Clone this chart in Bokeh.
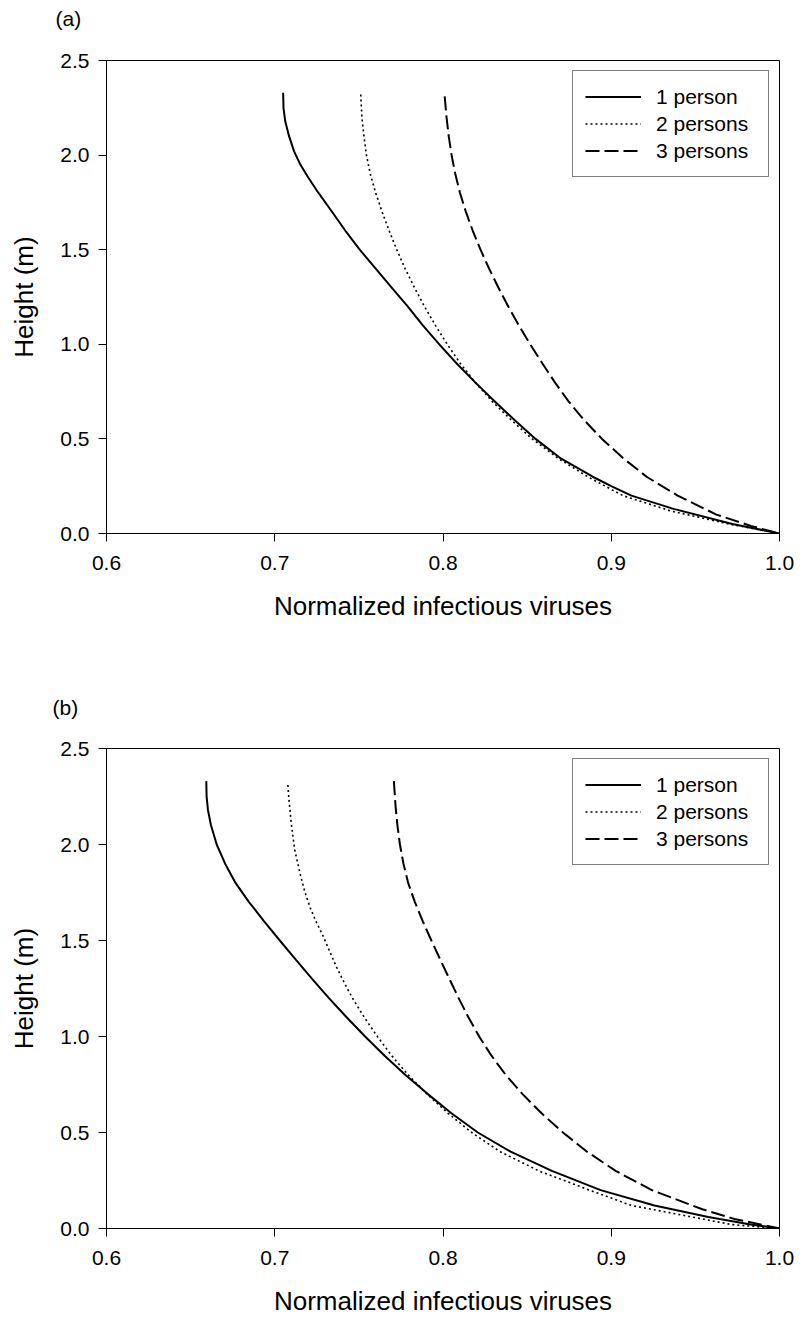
from bokeh.plotting import figure
from bokeh.layouts import column
from bokeh.models import Legend, LegendItem, FixedTicker, Range1d, Title
from bokeh.embed import file_html
from bokeh.resources import INLINE

# ---- data -------------------------------------------------------------
x_ticks = [0.6, 0.7, 0.8, 0.9, 1.0]
y_ticks = [0.0, 0.5, 1.0, 1.5, 2.0, 2.5]
series_names = ["1 person", "2 persons", "3 persons"]

# panel (a): normalized infectious viruses (x) against height (y)
a_one_h = [2.33, 2.25, 2.18, 2.10, 2.02, 1.95, 1.88, 1.80, 1.71, 1.60, 1.50, 1.40,
           1.30, 1.20, 1.10, 1.00, 0.90, 0.80, 0.70, 0.60, 0.50, 0.40, 0.30, 0.25,
           0.20, 0.13, 0.05, 0.0]
a_one_v = [0.7050, 0.7052, 0.7062, 0.7085, 0.7115, 0.7152, 0.7200, 0.7260, 0.7333,
           0.7420, 0.7505, 0.7600, 0.7695, 0.7790, 0.7880, 0.7978, 0.8080, 0.8190,
           0.8305, 0.8425, 0.8550, 0.8695, 0.8890, 0.9000, 0.9120, 0.9370, 0.9720, 1.0]

a_two_h = [2.32, 2.20, 2.10, 2.00, 1.90, 1.80, 1.70, 1.60, 1.50, 1.40, 1.30, 1.20,
           1.10, 1.00, 0.90, 0.80, 0.70, 0.60, 0.50, 0.40, 0.30, 0.20, 0.12, 0.05, 0.0]
a_two_v = [0.7511, 0.7518, 0.7530, 0.7545, 0.7568, 0.7600, 0.7638, 0.7680, 0.7725,
           0.7775, 0.7830, 0.7890, 0.7955, 0.8025, 0.8102, 0.8190, 0.8290, 0.8405,
           0.8530, 0.8680, 0.8860, 0.9070, 0.9350, 0.9700, 1.0]

a_three_h = [2.31, 2.20, 2.10, 2.00, 1.90, 1.80, 1.70, 1.60, 1.50, 1.40, 1.30, 1.20,
             1.10, 1.00, 0.90, 0.80, 0.70, 0.60, 0.50, 0.40, 0.30, 0.20, 0.10, 0.04, 0.0]
a_three_v = [0.8010, 0.8021, 0.8034, 0.8051, 0.8073, 0.8101, 0.8136, 0.8177, 0.8223,
             0.8274, 0.8329, 0.8388, 0.8451, 0.8518, 0.8590, 0.8664, 0.8745, 0.8838,
             0.8945, 0.9068, 0.9210, 0.9395, 0.9625, 0.9830, 1.0]

# panel (b)
b_one_h = [2.33, 2.25, 2.18, 2.10, 2.00, 1.90, 1.80, 1.70, 1.60, 1.50, 1.40, 1.30,
           1.20, 1.10, 1.00, 0.90, 0.80, 0.70, 0.60, 0.50, 0.40, 0.30, 0.20, 0.12,
           0.06, 0.02, 0.0]
b_one_v = [0.6593, 0.6595, 0.6603, 0.6621, 0.6655, 0.6705, 0.6767, 0.6847, 0.6937,
           0.7030, 0.7125, 0.7222, 0.7322, 0.7427, 0.7537, 0.7653, 0.7777, 0.7910,
           0.8050, 0.8207, 0.8402, 0.8647, 0.8937, 0.9257, 0.9577, 0.9837, 1.0]

b_two_h = [2.31, 2.24, 2.11, 1.97, 1.84, 1.75, 1.67, 1.60, 1.52, 1.44, 1.36, 1.28,
           1.20, 1.10, 1.00, 0.90, 0.80, 0.70, 0.60, 0.50, 0.40, 0.30, 0.20, 0.12,
           0.06, 0.02, 0.0]
b_two_v = [0.7078, 0.7084, 0.7098, 0.7119, 0.7153, 0.7180, 0.7211, 0.7245, 0.7289,
           0.7328, 0.7368, 0.7413, 0.7462, 0.7532, 0.7610, 0.7695, 0.7793, 0.7905,
           0.8030, 0.8170, 0.8340, 0.8570, 0.8870, 0.9120, 0.9480, 0.9720, 1.0]

b_three_h = [2.33, 2.20, 2.10, 2.00, 1.90, 1.80, 1.70, 1.60, 1.50, 1.40, 1.30, 1.20,
             1.10, 1.00, 0.90, 0.80, 0.70, 0.60, 0.50, 0.40, 0.30, 0.20, 0.10, 0.05, 0.0]
b_three_v = [0.7708, 0.7718, 0.7729, 0.7744, 0.7765, 0.7793, 0.7833, 0.7880, 0.7931,
             0.7984, 0.8038, 0.8093, 0.8151, 0.8215, 0.8288, 0.8373, 0.8473, 0.8586,
             0.8713, 0.8856, 0.9026, 0.9241, 0.9541, 0.9731, 1.0]

# ---- styling ----------------------------------------------------------
FONT = "Liberation Sans"
line_styles = [
    dict(line_dash="solid", line_width=2),
    dict(line_dash="2 3", line_width=1.6),
    dict(line_dash="14 5", line_width=2),
]


def make_tag(tag, height, border_top, offset):
    """A thin strip above a panel that carries its tag, e.g. "(a)"."""
    t = figure(width=801, height=height, output_backend="svg", toolbar_location=None,
               x_range=Range1d(0, 1), y_range=Range1d(0, 1),
               x_axis_type=None, y_axis_type=None,
               min_border_left=106, min_border_right=22,
               min_border_top=border_top, min_border_bottom=0,
               outline_line_color=None)
    t.grid.visible = False
    t.add_layout(Title(text=tag, align="left", offset=offset, standoff=6,
                       text_font=FONT, text_font_size="21px",
                       text_font_style="normal", text_color="black"), "above")
    return t


def make_panel(series, height, borders):
    left, right, top, bottom = borders
    p = figure(width=801, height=height, output_backend="svg", toolbar_location=None,
               x_range=Range1d(0.6, 1.0), y_range=Range1d(0.0, 2.5),
               min_border_left=left, min_border_right=right,
               min_border_top=top, min_border_bottom=bottom)
    p.grid.visible = False
    p.outline_line_color = "black"
    p.outline_line_width = 1
    p.outline_line_alpha = 1.0
    p.background_fill_color = "white"
    p.border_fill_color = "white"

    p.xaxis.ticker = FixedTicker(ticks=x_ticks)
    p.yaxis.ticker = FixedTicker(ticks=y_ticks)
    p.xaxis.major_label_overrides = {v: f"{v:.1f}" for v in x_ticks}
    p.yaxis.major_label_overrides = {v: f"{v:.1f}" for v in y_ticks}
    for ax in (p.xaxis[0], p.yaxis[0]):
        ax.axis_line_color = "black"
        ax.major_tick_line_color = "black"
        ax.major_tick_in = 0
        ax.major_tick_out = 8
        ax.minor_tick_line_color = None
        ax.major_label_text_font = FONT
        ax.major_label_text_font_size = "21px"
        ax.major_label_text_color = "black"
        ax.axis_label_text_font = FONT
        ax.axis_label_text_font_size = "26px"
        ax.axis_label_text_font_style = "normal"
        ax.axis_label_text_color = "black"
    p.xaxis.axis_label = "Normalized infectious viruses"
    p.yaxis.axis_label = "Height (m)"
    p.xaxis.major_label_standoff = 14
    p.yaxis.major_label_standoff = 9
    p.xaxis.axis_label_standoff = 18
    p.yaxis.axis_label_standoff = 18

    items = []
    for name, (vals, hts), style in zip(series_names, series, line_styles):
        r = p.line(vals, hts, line_color="black", **style)
        items.append(LegendItem(label=name, renderers=[r]))

    legend = Legend(items=items, location="top_right", margin=10,
                    padding=12, spacing=0, glyph_width=56, glyph_height=27,
                    label_standoff=15, label_width=100, label_height=27,
                    label_text_font=FONT, label_text_font_size="21px",
                    label_text_color="black",
                    border_line_color="black", border_line_width=1,
                    background_fill_color="white", background_fill_alpha=1.0)
    p.add_layout(legend, "center")
    return p


tag_a = make_tag("(a)", 40, 32, -51)
pa = make_panel([(a_one_v, a_one_h), (a_two_v, a_two_h), (a_three_v, a_three_h)],
                615, (106, 22, 20, 122))
tag_b = make_tag("(b)", 70, 66, -54)
pb = make_panel([(b_one_v, b_one_h), (b_two_v, b_two_h), (b_three_v, b_three_h)],
                593, (103, 14, 23, 90))

layout = column(tag_a, pa, tag_b, pb, spacing=0)
open("out.html", "w").write(file_html(layout, INLINE))
